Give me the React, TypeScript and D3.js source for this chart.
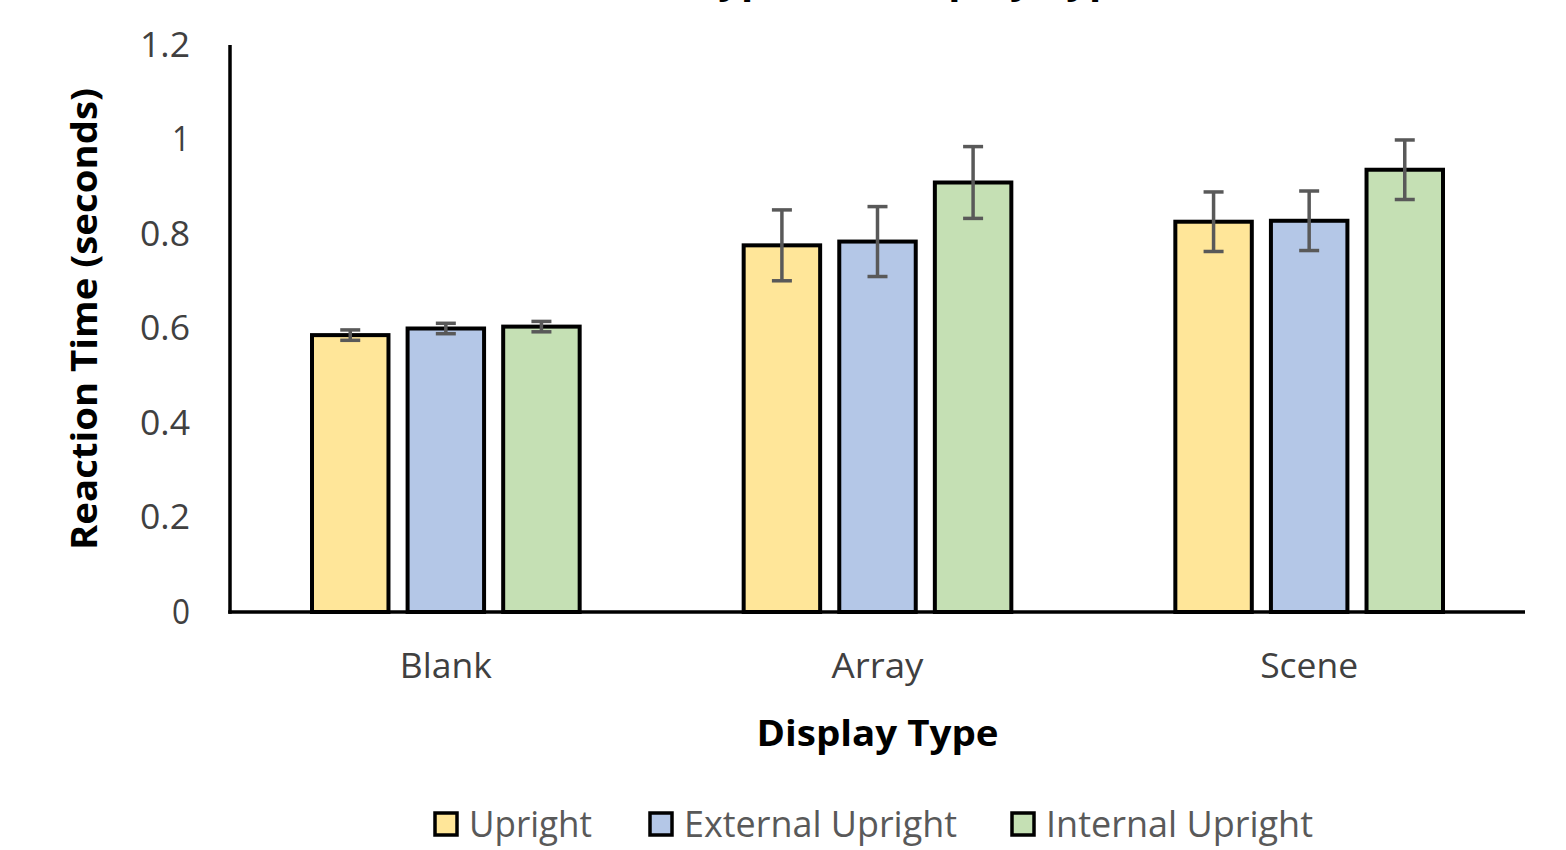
import React from "react";
import * as d3 from "d3";

const categories = ["Blank", "Array", "Scene"];
const seriesNames = ["Upright", "External Upright", "Internal Upright"];
const uprightValues = [0.586, 0.776, 0.826];
const externalValues = [0.6, 0.784, 0.828];
const internalValues = [0.604, 0.909, 0.936];
const uprightErrors = [0.011, 0.075, 0.063];
const externalErrors = [0.011, 0.074, 0.063];
const internalErrors = [0.011, 0.076, 0.063];
const yTicks = [0, 0.2, 0.4, 0.6, 0.8, 1, 1.2];
const yTickLabels = ["0", "0.2", "0.4", "0.6", "0.8", "1", "1.2"];
const colors = ["#FFE699", "#B4C7E7", "#C5E0B4"];

const W = 1566;
const H = 850;
const left = 230;
const right = 1525;
const top = 45;
const bottom = 612;
const FONT = "'Open Sans', 'Noto Sans', sans-serif";

export default function App() {
  const values = [uprightValues, externalValues, internalValues];
  const errors = [uprightErrors, externalErrors, internalErrors];
  const y = d3.scaleLinear().domain([0, 1.2]).range([bottom, top]);
  const x0 = d3.scaleBand<string>().domain(categories).range([left, right]).paddingInner(0).paddingOuter(0);
  const x1 = d3
    .scaleBand<string>()
    .domain(seriesNames)
    .range([82, x0.bandwidth() - 82])
    .paddingInner(0.2)
    .paddingOuter(0);
  const capW = 20;
  const legendX = [435, 650, 1012];
  const legendTextLen = [123, 273, 267];
  const catLen = [92, 92, 98];
  return (
    <svg width={W} height={H} style={{ display: "block", position: "absolute", left: 0, top: 0 }}>
      <rect x={0} y={0} width={W} height={H} fill="#ffffff" />
      <text
        x={1138}
        y={-7}
        textAnchor="end"
        fontFamily={FONT}
        fontWeight="bold"
        fontSize={40}
        fill="#000"
      >
        Reaction Time for Face Type and Display Type
      </text>
      {/* y tick labels */}
      {yTicks.map((t, i) => (
        <text
          key={i}
          x={190}
          y={y(t)}
          dy="0.35em"
          textAnchor="end"
          fontFamily={FONT}
          fontSize={34}
          fill="#404040"
          textLength={yTickLabels[i].length === 1 ? 18 : 50}
          lengthAdjust="spacingAndGlyphs"
        >
          {yTickLabels[i]}
        </text>
      ))}
      {/* bars */}
      {categories.map((c, ci) => (
        <g key={c} transform={`translate(${x0(c)},0)`}>
          {seriesNames.map((s, si) => {
            const v = values[si][ci];
            const e = errors[si][ci];
            const bx = x1(s)!;
            const bw = x1.bandwidth();
            const cx = bx + bw / 2;
            return (
              <g key={s}>
                <rect
                  x={bx}
                  y={y(v)}
                  width={bw}
                  height={y(0) - y(v)}
                  fill={colors[si]}
                  stroke="#000"
                  strokeWidth={4}
                />
                <line x1={cx} x2={cx} y1={y(v + e)} y2={y(v - e)} stroke="#595959" strokeWidth={3.5} />
                <line x1={cx - capW / 2} x2={cx + capW / 2} y1={y(v + e)} y2={y(v + e)} stroke="#595959" strokeWidth={3.5} />
                <line x1={cx - capW / 2} x2={cx + capW / 2} y1={y(v - e)} y2={y(v - e)} stroke="#595959" strokeWidth={3.5} />
              </g>
            );
          })}
        </g>
      ))}
      {/* axes */}
      <line x1={left} x2={left} y1={top} y2={bottom + 1.75} stroke="#000" strokeWidth={3.5} />
      <line x1={left - 1.75} x2={right} y1={bottom} y2={bottom} stroke="#000" strokeWidth={3.5} />
      {/* category labels */}
      {categories.map((c, ci) => (
        <text
          key={c}
          x={x0(c)! + x0.bandwidth() / 2}
          y={666}
          dy="0.35em"
          textAnchor="middle"
          fontFamily={FONT}
          fontSize={34}
          fill="#404040"
          textLength={catLen[ci]}
          lengthAdjust="spacingAndGlyphs"
        >
          {c}
        </text>
      ))}
      {/* x title */}
      <text
        x={(left + right) / 2}
        y={733}
        dy="0.35em"
        textAnchor="middle"
        fontFamily={FONT}
        fontWeight="bold"
        fontSize={36}
        fill="#000"
        textLength={242}
        lengthAdjust="spacingAndGlyphs"
      >
        Display Type
      </text>
      {/* y title */}
      <text
        transform={`translate(84,${(88 + 550) / 2}) rotate(-90)`}
        dy="0.35em"
        textAnchor="middle"
        fontFamily={FONT}
        fontWeight="bold"
        fontSize={36}
        fill="#000"
        textLength={462}
        lengthAdjust="spacingAndGlyphs"
      >
        Reaction Time (seconds)
      </text>
      {/* legend */}
      {seriesNames.map((s, si) => (
        <g key={s}>
          <rect x={legendX[si]} y={813} width={22} height={22} fill={colors[si]} stroke="#000" strokeWidth={3.5} />
          <text
            x={legendX[si] + 34}
            y={824}
            dy="0.35em"
            fontFamily={FONT}
            fontSize={36}
            fill="#595959"
            textLength={legendTextLen[si]}
            lengthAdjust="spacingAndGlyphs"
          >
            {s}
          </text>
        </g>
      ))}
    </svg>
  );
}
